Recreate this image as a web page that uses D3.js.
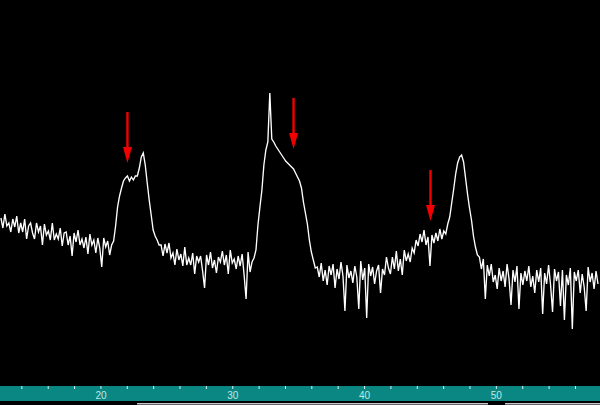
<html>
  <head>
    <script src="https://d3js.org/d3.v7.min.js"></script>
    <style>
      body { margin: 0; background: #000; }
      svg { display: block; }
    </style>
  </head>
  <body>
    <script type="text/javascript">

      // scan: 2-theta start and step (degrees)
      var scanStart = 12.45;
      var scanStep = 0.15;

      // intensity (counts), one value per step
      var counts = [
        182, 172, 186, 174, 177, 168, 181, 173, 184, 167,
        177, 168, 181, 161, 174, 177, 167, 161, 177, 168,
        174, 155, 176, 165, 169, 160, 177, 160, 166, 161,
        172, 154, 167, 168, 155, 164, 144, 167, 158, 170,
        155, 161, 152, 163, 146, 166, 155, 160, 147, 162,
        152, 133, 162, 153, 159, 145, 155,
        // first peak with shoulder
        159, 174, 193, 204, 212, 219, 222, 224, 219, 223,
        220, 224, 224, 232, 243, 247, 235, 217, 200, 185,
        170, 164, 160, 155,
        155, 144, 156, 147, 157, 142, 147, 135, 151, 140,
        146, 134, 153, 135, 142, 135, 147, 126, 144, 138,
        144, 129, 112, 145, 135, 148, 132, 140, 127, 143,
        138, 149, 135, 145, 126, 150, 137, 141, 131, 144,
        134, 146, 125, 101, 148, 128, 138,
        // second peak with sharp spike
        142, 150, 175, 193, 210, 235, 250, 258, 307, 261,
        258, 254, 251, 248, 245, 242, 239, 237, 235, 233,
        231, 227, 223, 219, 212, 198, 187, 176, 160, 148,
        140, 132,
        133, 123, 137, 119, 130, 115, 134, 125, 136, 112,
        131, 121, 138, 124, 89, 135, 122, 129, 117, 134,
        123, 91, 139, 120, 132, 82, 136, 124, 133, 116,
        129, 135, 107, 131, 125, 143, 132, 126, 143, 131,
        149, 129, 141, 125, 150, 139,
        // third peak with shoulder
        146, 138, 152, 147, 160, 154, 166, 158, 170, 155,
        163, 134, 165, 157, 167, 159, 171, 161, 169, 166,
        176, 183, 197, 211, 226, 237, 243, 245, 238, 222,
        206, 192, 180, 164, 153, 145,
        143, 131, 141, 101, 135, 124, 136, 118, 125, 111,
        132, 119, 129, 113, 136, 121, 95, 130, 118, 134,
        91, 127, 115, 129, 119, 134, 113, 124, 107, 130,
        118, 132, 86, 127, 116, 135, 115, 88, 131, 119,
        128, 94, 130, 80, 125, 115, 132, 71, 128, 119,
        130, 107, 126, 113, 89, 133, 118, 127, 111, 129,
        116
      ];

      // marked shoulders: position (degrees) and arrow tip (counts)
      var arrowAngles = [22.05, 34.65, 45.04];
      var arrowTips = [237, 251, 179];

      // axis ticks and labels
      var tickAngles = [14, 16, 18, 20, 22, 24, 26, 28, 30, 32, 34, 36, 38, 40, 42, 44, 46, 48, 50, 52, 54, 56];
      var labelAngles = [20, 30, 40, 50];

      var width = 600;
      var height = 405;
      var axisTop = 386;

      var data = counts.map(function(c, i) {
        return { angle: scanStart + scanStep * i, count: c };
      });

      var x = d3.scaleLinear()
        .domain([12.38, 57.9])
        .range([0, width]);

      var y = d3.scaleLinear()
        .domain([0, 400])
        .range([400, 0]);

      var svg = d3.select("body").append("svg")
        .attr("width", width)
        .attr("height", height);

      svg.append("rect")
        .attr("width", width)
        .attr("height", height)
        .attr("fill", "#000");

      // teal axis strip
      svg.append("rect")
        .attr("x", 0)
        .attr("y", axisTop)
        .attr("width", width)
        .attr("height", 15)
        .attr("fill", "#0a8782");

      // thin grey strip underneath (window scroller)
      svg.append("rect")
        .attr("x", 137).attr("y", 403)
        .attr("width", 351).attr("height", 1.5)
        .attr("fill", "#c8c8c8");
      svg.append("rect")
        .attr("x", 505).attr("y", 403)
        .attr("width", 95).attr("height", 1.5)
        .attr("fill", "#c8c8c8");

      var xAxis = d3.axisBottom(x)
        .tickValues(tickAngles)
        .tickSize(3)
        .tickFormat(function(d) { return labelAngles.indexOf(d) >= 0 ? d : ""; });

      var gx = svg.append("g")
        .attr("transform", "translate(0," + axisTop + ")")
        .call(xAxis);

      gx.select(".domain").remove();
      gx.selectAll(".tick line")
        .attr("stroke", "#d8f2f0")
        .attr("stroke-width", 1);
      gx.selectAll(".tick text")
        .attr("y", 9)
        .attr("dy", "0.35em")
        .attr("fill", "#bfe9e6")
        .attr("font-family", "Liberation Sans, Arial, sans-serif")
        .attr("font-size", "10px");

      var line = d3.line()
        .x(function(d) { return x(d.angle); })
        .y(function(d) { return y(d.count); });

      svg.append("path")
        .datum(data)
        .attr("fill", "none")
        .attr("stroke", "#fff")
        .attr("stroke-width", 1.35)
        .attr("stroke-linejoin", "miter")
        .attr("d", line);

      // red arrows
      var arrows = svg.selectAll(".arrow")
        .data(arrowAngles.map(function(a, i) { return { angle: a, tip: arrowTips[i] }; }))
        .enter().append("g")
        .attr("class", "arrow")
        .attr("transform", function(d) { return "translate(" + x(d.angle) + "," + y(d.tip) + ")"; });

      arrows.append("rect")
        .attr("x", -1.2)
        .attr("y", -51)
        .attr("width", 2.4)
        .attr("height", 38)
        .attr("fill", "#f00000");

      arrows.append("path")
        .attr("d", "M-4.5,-16L4.5,-16L0,0Z")
        .attr("fill", "#f00000");

    </script>
  </body>
</html>
